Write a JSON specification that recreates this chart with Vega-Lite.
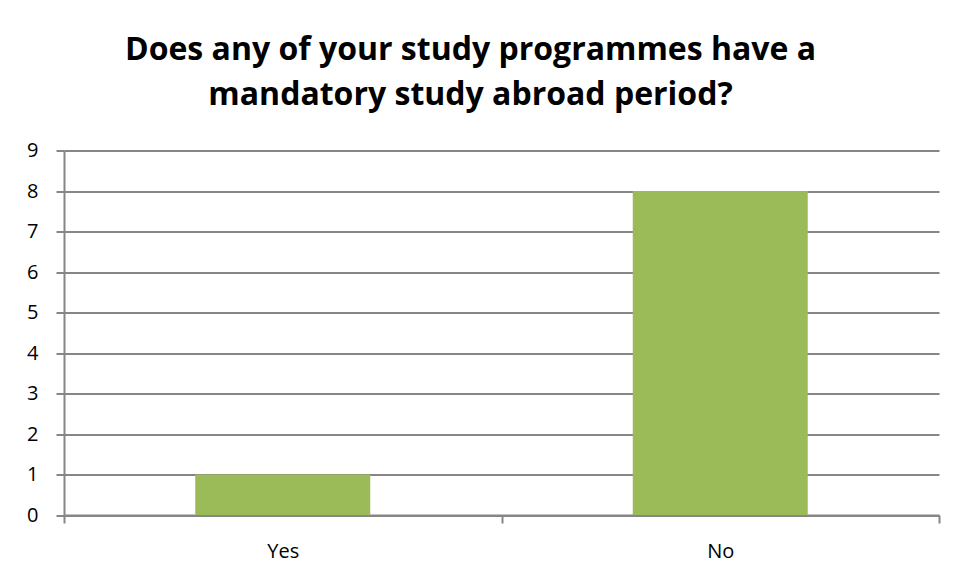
{
  "$schema": "https://vega.github.io/schema/vega-lite/v6.json",
  "width": 875,
  "height": 364.5,
  "autosize": {"type": "none"},
  "padding": {"left": 64, "top": 150.5, "right": 20, "bottom": 64},
  "background": "white",
  "title": {
    "text": ["Does any of your study programmes have a", "mandatory study abroad period?"],
    "font": "Open Sans",
    "fontSize": 32,
    "fontWeight": "bold",
    "color": "#000000",
    "anchor": "middle",
    "lineHeight": 45,
    "dx": -31,
    "offset": 29
  },
  "data": {
    "values": [
      {"answer": "Yes", "count": 1},
      {"answer": "No", "count": 8}
    ]
  },
  "mark": {"type": "bar", "color": "#9BBB59", "width": {"band": 0.4}},
  "encoding": {
    "x": {
      "field": "answer",
      "type": "nominal",
      "sort": ["Yes", "No"],
      "scale": {"paddingInner": 0, "paddingOuter": 0},
      "axis": {
        "title": null,
        "labelAngle": 0,
        "labelFont": "Open Sans",
        "labelFontSize": 20,
        "labelColor": "#000000",
        "labelPadding": 18,
        "tickBand": "extent",
        "tickSize": 8,
        "tickColor": "#868686",
        "tickWidth": 2,
        "domainColor": "#868686",
        "domainWidth": 2
      }
    },
    "y": {
      "field": "count",
      "type": "quantitative",
      "scale": {"domain": [0, 9], "nice": false},
      "axis": {
        "title": null,
        "values": [0, 1, 2, 3, 4, 5, 6, 7, 8, 9],
        "labelFont": "Open Sans",
        "labelFontSize": 20,
        "labelColor": "#000000",
        "labelPadding": 18,
        "tickSize": 8,
        "tickColor": "#868686",
        "tickWidth": 2,
        "domainColor": "#868686",
        "domainWidth": 2,
        "grid": true,
        "gridColor": "#868686",
        "gridWidth": 2
      }
    }
  },
  "config": {
    "view": {"stroke": null}
  }
}
